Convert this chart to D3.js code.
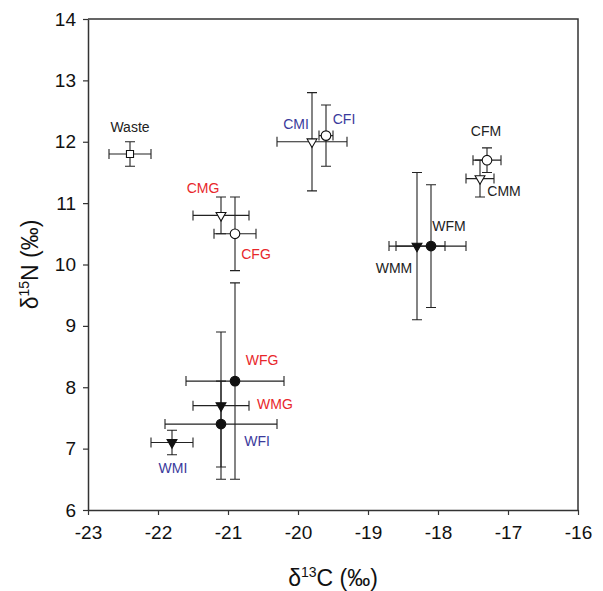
<!DOCTYPE html>
<html>
<head>
<meta charset="utf-8">
<script src="https://cdn.jsdelivr.net/npm/d3@7"></script>
<style>
body{margin:0;background:#fff;}
svg{display:block;font-family:"Liberation Sans",Arial,sans-serif;}
</style>
</head>
<body>
<div id="graph"></div>
<script>
// groups, d13C / d15N means and errors
names  = ["Waste","CMI","CFI","CFM","CMM","CMG","CFG","WFM","WMM","WFG","WMG","WFI","WMI"];
xMean  = [-22.4,-19.8,-19.6,-17.3,-17.4,-21.1,-20.9,-18.1,-18.3,-20.9,-21.1,-21.1,-21.8];
xErr   = [0.3,0.5,0.1,0.2,0.2,0.4,0.3,0.5,0.4,0.7,0.4,0.8,0.3];
yMean  = [11.8,12.0,12.1,11.7,11.4,10.8,10.5,10.3,10.3,8.1,7.7,7.4,7.1];
yErr   = [0.2,0.8,0.5,0.2,0.3,0.3,0.6,1.0,1.2,1.6,1.2,0.7,0.2];
shapes = ["square","tri","circle","circle","tri","tri","circle","circle","tri","circle","tri","circle","tri"];
filled = [false,false,false,false,false,false,false,true,true,true,true,true,true];
labelColor = ["k","b","b","k","k","r","r","k","k","r","r","b","b"];
xTicks = [-23,-22,-21,-20,-19,-18,-17,-16];
yTicks = [6,7,8,9,10,11,12,13,14];

//layout
width=603;
height=591;
margin={left:88,right:25,top:19,bottom:81};
colors={k:"#222",r:"#e8262b",b:"#3a3a9c"};
// label offsets (px) from each marker
labelOff={
	Waste:[0,-27],CMI:[-16,-18],CFI:[18,-17],CFM:[-1,-29],CMM:[24,12],
	CMG:[-18,-27],CFG:[21,20],WFM:[18,-20],WMM:[-23,22],WFG:[27,-21],
	WMG:[54,-2],WFI:[36,17],WMI:[1,26]
};

svg=d3.select("#graph").append("svg").attr("width",width).attr("height",height);

x=d3.scaleLinear().domain([-23,-16]).range([margin.left,width-margin.right]);
y=d3.scaleLinear().domain([6,14]).range([height-margin.bottom,margin.top]);

data=names.map(function(n,i){
	return {name:n,x:xMean[i],xe:xErr[i],y:yMean[i],ye:yErr[i],shape:shapes[i],fill:filled[i],col:colors[labelColor[i]]};
});

//axes
gx=svg.append("g").attr("transform","translate(0,"+y(6)+")")
	.call(d3.axisBottom(x).tickValues(xTicks).tickFormat(function(d){return String(d);})
		.tickSize(5).tickSizeOuter(0).tickPadding(11));
gy=svg.append("g").attr("transform","translate("+x(-23)+",0)")
	.call(d3.axisLeft(y).tickValues(yTicks).tickFormat(function(d){return String(d);})
		.tickSize(5).tickSizeOuter(0).tickPadding(7));
[gx,gy].forEach(function(g){
	g.selectAll("text").attr("font-size",19).attr("fill","#111").attr("font-family","Liberation Sans,Arial,sans-serif");
	g.selectAll("line").attr("stroke","#333").attr("stroke-width",1.2);
	g.select(".domain").attr("stroke","#333").attr("stroke-width",1.5);
});
// frame top/right
svg.append("path")
	.attr("d","M"+x(-23)+","+y(14)+"H"+x(-16)+"V"+y(6))
	.attr("fill","none").attr("stroke","#333").attr("stroke-width",1.5);

//error bars
cap=5;
eb=svg.append("g").attr("stroke","#222").attr("stroke-width",1.1).attr("fill","none");
data.forEach(function(d){
	var cx=x(d.x),cy=y(d.y);
	var x0=x(d.x-d.xe),x1=x(d.x+d.xe),y0=y(d.y-d.ye),y1=y(d.y+d.ye);
	eb.append("path").attr("d",
		"M"+x0+","+cy+"H"+x1+
		"M"+x0+","+(cy-cap)+"V"+(cy+cap)+
		"M"+x1+","+(cy-cap)+"V"+(cy+cap)+
		"M"+cx+","+y0+"V"+y1+
		"M"+(cx-cap)+","+y0+"H"+(cx+cap)+
		"M"+(cx-cap)+","+y1+"H"+(cx+cap));
});

//markers
sym={square:d3.symbolSquare,circle:d3.symbolCircle,tri:d3.symbolTriangle};
sz={square:50,circle:72,tri:42};
svg.append("g").selectAll("path").data(data).enter().append("path")
	.attr("d",function(d){return d3.symbol().type(sym[d.shape]).size(sz[d.shape])();})
	.attr("transform",function(d){
		var t="translate("+x(d.x)+","+y(d.y)+")";
		if(d.shape=="tri")t+=" rotate(180)";
		return t;
	})
	.attr("fill",function(d){return d.fill?"#111":"#fff";})
	.attr("stroke","#111").attr("stroke-width",1.1);

//labels
svg.append("g").selectAll("text").data(data).enter().append("text")
	.text(function(d){return d.name;})
	.attr("x",function(d){return x(d.x)+labelOff[d.name][0];})
	.attr("y",function(d){return y(d.y)+labelOff[d.name][1];})
	.attr("text-anchor","middle").attr("dominant-baseline","central")
	.attr("font-size",14).attr("fill",function(d){return d.col;});

//axis titles
tx=svg.append("text").attr("x",(x(-23)+x(-16))/2).attr("y",586)
	.attr("text-anchor","middle").attr("font-size",23).attr("fill","#111");
tx.append("tspan").text("δ");
tx.append("tspan").text("13").attr("font-size",14).attr("dy",-9);
tx.append("tspan").text("C (‰)").attr("dy",9);

ty=svg.append("text").attr("transform","translate(38,"+((y(6)+y(14))/2)+") rotate(-90)")
	.attr("text-anchor","middle").attr("font-size",23).attr("fill","#111");
ty.append("tspan").text("δ");
ty.append("tspan").text("15").attr("font-size",14).attr("dy",-9);
ty.append("tspan").text("N (‰)").attr("dy",9);
</script>
</body>
</html>
